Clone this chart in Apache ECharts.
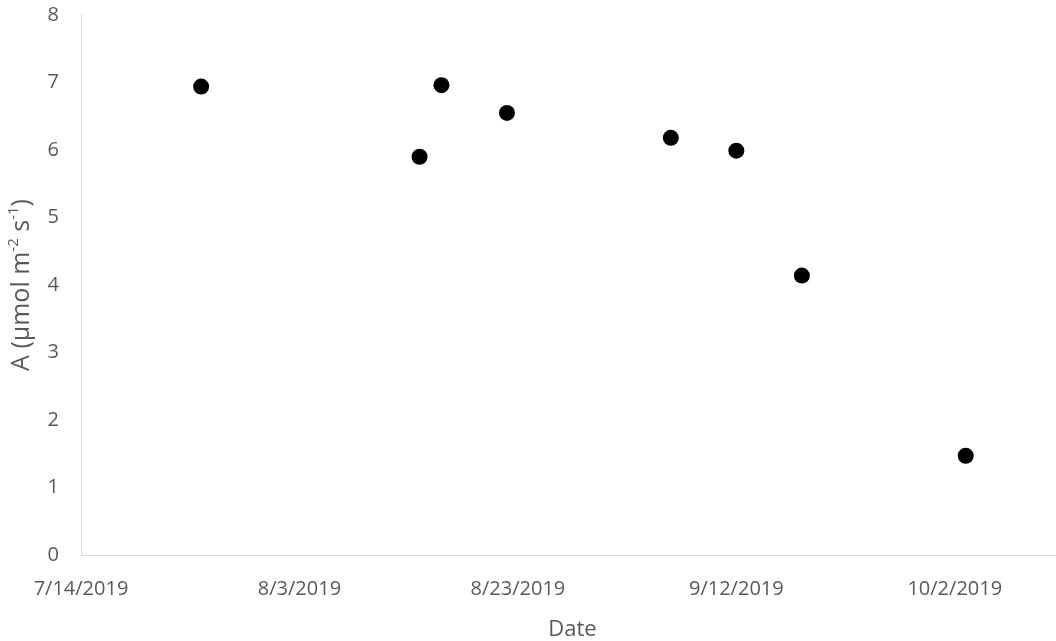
<!DOCTYPE html>
<html>
<head>
<meta charset="utf-8">
<script src="https://cdn.jsdelivr.net/npm/echarts@6/dist/echarts.min.js"></script>
<style>
  html, body { margin: 0; padding: 0; background: #ffffff; }
  #chart { width: 1056px; height: 641px; }
</style>
</head>
<body>
<div id="chart"></div>
<script>
// Axis range for the date axis (days counted from the first date)
const startDate = '2019-07-14';
const endDate = '2019-10-12';
const dateTickStepDays = 20;

// Measurement dates and net assimilation A (µmol m-2 s-1)
const sampleDates = ['2019-07-25', '2019-08-14', '2019-08-16', '2019-08-22',
                     '2019-09-06', '2019-09-12', '2019-09-18', '2019-10-03'];
const assimilation = [6.94, 5.90, 6.96, 6.55, 6.18, 5.99, 4.14, 1.47];

// Value axis range
const yMin = 0;
const yMax = 8;
const yStep = 1;

const DAY_MS = 86400000;
const baseMs = Date.parse(startDate);
const toDay = s => Math.round((Date.parse(s) - baseMs) / DAY_MS);
const fmtDay = v => {
  const d = new Date(baseMs + v * DAY_MS);
  return (d.getUTCMonth() + 1) + '/' + d.getUTCDate() + '/' + d.getUTCFullYear();
};

const points = sampleDates.map((s, i) => [toDay(s), assimilation[i]]);

const textColor = '#595959';
const axisColor = '#d9d9d9';
const fontFamily = '"Open Sans", "Noto Sans", sans-serif';

const chart = echarts.init(document.getElementById('chart'), null, { renderer: 'canvas' });
chart.setOption({
  animation: false,
  backgroundColor: '#ffffff',
  grid: {
    left: 81, top: 15, width: 983, height: 540,
    containLabel: false,
    outerBoundsMode: 'none'
  },
  xAxis: {
    type: 'value',
    min: 0,
    max: toDay(endDate),
    interval: dateTickStepDays,
    name: 'Date',
    nameLocation: 'middle',
    nameGap: 64,
    nameTextStyle: { color: textColor, fontSize: 22, fontFamily: fontFamily },
    axisLine: { show: true, lineStyle: { color: axisColor, width: 1 } },
    axisTick: { show: false },
    splitLine: { show: false },
    axisLabel: {
      color: textColor, fontSize: 20, fontFamily: fontFamily, margin: 24,
      showMaxLabel: false,
      formatter: fmtDay
    }
  },
  yAxis: {
    type: 'value',
    min: yMin,
    max: yMax,
    interval: yStep,
    name: 'A (µmol m{sup|-2} s{sup|-1})',
    nameLocation: 'middle',
    nameRotate: 90,
    nameGap: 42,
    nameTextStyle: {
      color: textColor, fontSize: 25, fontFamily: fontFamily, lineHeight: 30,
      rich: {
        sup: { color: textColor, fontSize: 15, fontFamily: fontFamily, lineHeight: 17, verticalAlign: 'top' }
      }
    },
    axisLine: { show: true, lineStyle: { color: axisColor, width: 1 } },
    axisTick: { show: false },
    splitLine: { show: false },
    axisLabel: { color: textColor, fontSize: 20, fontFamily: fontFamily, margin: 22 }
  },
  series: [{
    type: 'scatter',
    data: points,
    symbol: 'circle',
    symbolSize: 16,
    itemStyle: { color: '#000000', opacity: 1 }
  }]
});
</script>
</body>
</html>
